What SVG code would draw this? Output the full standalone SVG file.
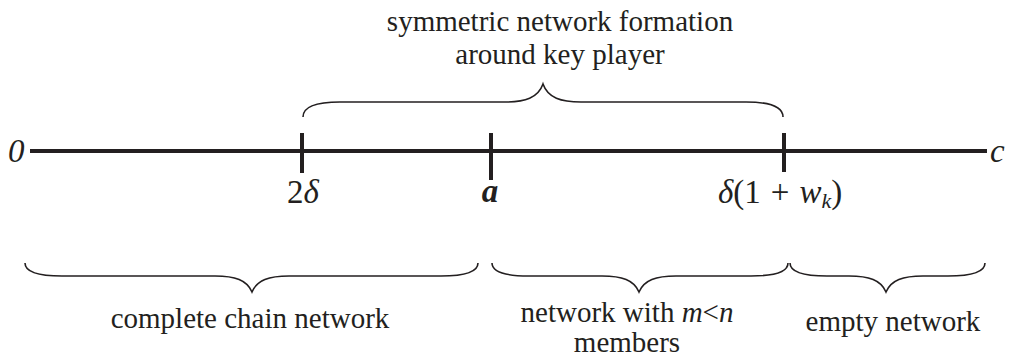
<svg xmlns="http://www.w3.org/2000/svg" width="1011" height="358" viewBox="0 0 1011 358">
<style>
.t{fill:#231f20;font-size:29px}
.m{fill:#231f20;font-size:33px}
.i{font-style:italic}
.b{font-weight:bold}
.axis{stroke:#231f20;stroke-width:4;fill:none}
.tick{stroke:#231f20;stroke-width:4;fill:none}
.brace{stroke:#231f20;stroke-width:1.6;fill:none}
</style>
<rect width="1011" height="358" fill="#ffffff"/>
<g id="connectors">
<line class="axis" x1="30" y1="151" x2="987" y2="151"/>
<line class="tick" x1="302" y1="133" x2="302" y2="173"/>
<line class="tick" x1="491" y1="133" x2="491" y2="180"/>
<line class="tick" x1="784" y1="133" x2="784" y2="172"/>
<path class="brace" d="M303,117 C303,108 312,102 340,102 L505,102 C525,102 538,98 543,84 C548,98 561,102 581,102 L746,102 C774,102 783,108 783,117"/>
<path class="brace" d="M25,263 C25,271 34,276 62,276 L215,276 C235,276 247,280 252,292 C257,280 269,276 289,276 L441,276 C469,276 478,271 478,263"/>
<path class="brace" d="M492,263 C492,271 501,276 529,276 L602,276 C622,276 634,280 639,292 C644,280 656,276 676,276 L751,276 C779,276 788,271 788,263"/>
<path class="brace" d="M790,263 C790,271 799,276 827,276 L849,276 C869,276 881,280 886,292 C891,280 903,276 923,276 L948,276 C976,276 985,271 985,263"/>
</g>
<g font-family="Liberation Serif, Times New Roman, DejaVu Serif, serif">
<g id="node-zero"><text class="m i" x="8" y="162" font-size="32">0</text></g>
<g id="node-c"><text class="m i" x="990" y="162" font-size="32">c</text></g>
<g id="node-2delta"><text class="m" x="303" y="203" text-anchor="middle">2<tspan class="i">δ</tspan></text></g>
<g id="node-a"><text class="m i b" x="490" y="202" text-anchor="middle" font-size="35">a</text></g>
<g id="node-delta1wk"><text class="m" x="718" y="203" font-size="34"><tspan class="i">δ</tspan>(1<tspan dx="10">+</tspan><tspan class="i" dx="10">w</tspan><tspan class="i" font-size="22" dy="5">k</tspan><tspan dy="-5">)</tspan></text></g>
<g id="node-top-label">
<text class="t" x="560" y="31" text-anchor="middle">symmetric network formation</text>
<text class="t" x="560" y="64" text-anchor="middle">around key player</text>
</g>
<g id="node-complete"><text class="t" x="250" y="328" text-anchor="middle">complete chain network</text></g>
<g id="node-network-m"><text class="t" x="627" y="322" text-anchor="middle" font-size="27">network with <tspan class="i">m</tspan>&lt;<tspan class="i">n</tspan></text>
<text class="t" x="627" y="352" text-anchor="middle" font-size="27">members</text></g>
<g id="node-empty"><text class="t" x="893" y="331" text-anchor="middle">empty network</text></g>
</g>
</svg>
